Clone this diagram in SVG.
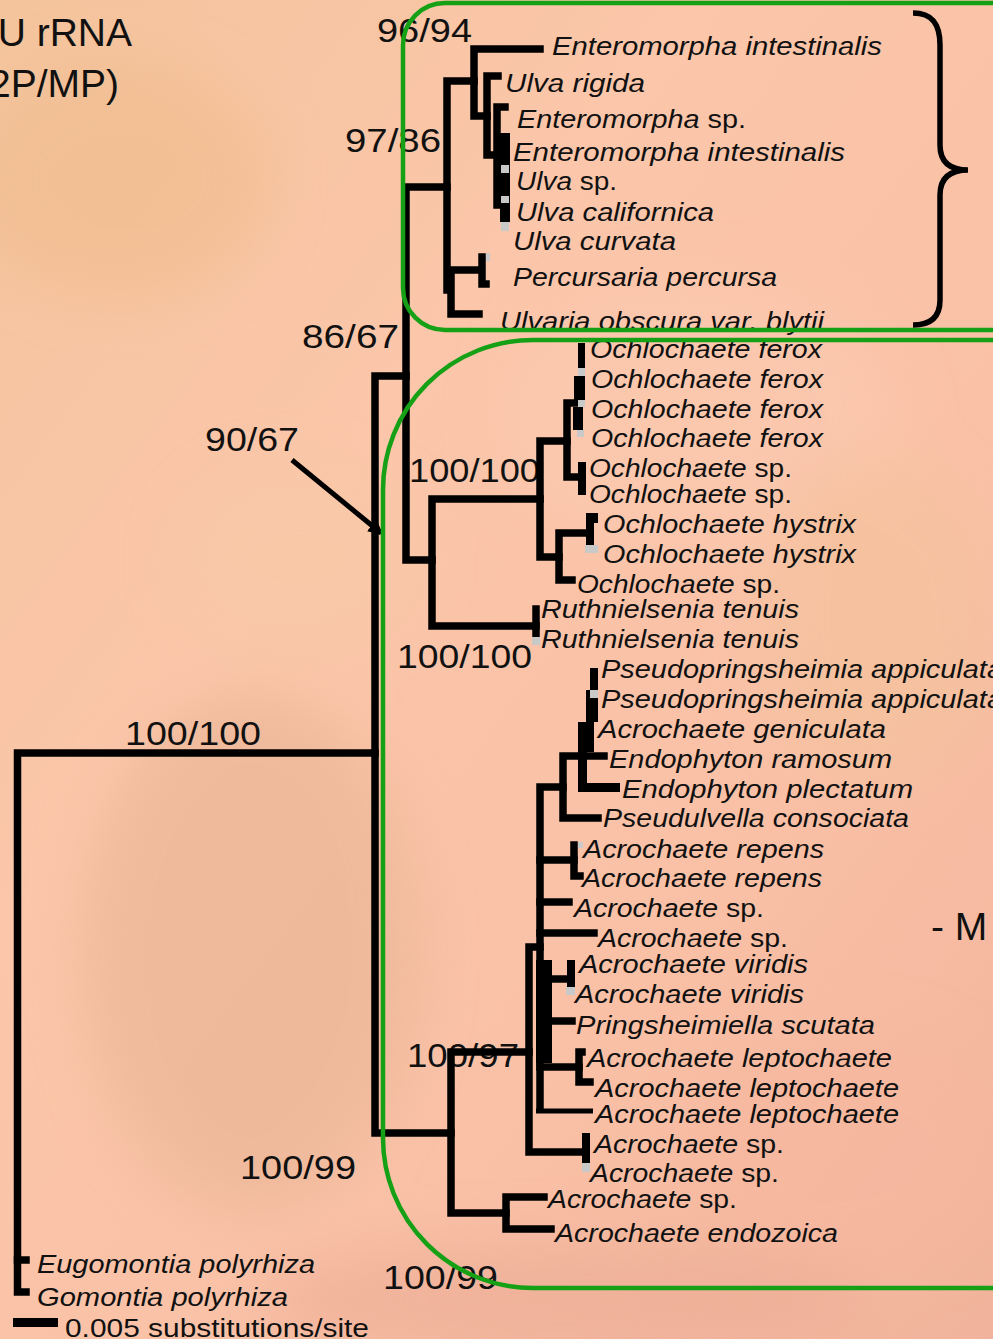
<svg xmlns="http://www.w3.org/2000/svg" width="993" height="1339" viewBox="0 0 993 1339">
<defs>
<linearGradient id="bg" x1="0" y1="0" x2="1" y2="1">
<stop offset="0" stop-color="#f4c49c"/>
<stop offset="0.35" stop-color="#fbc6aa"/>
<stop offset="0.7" stop-color="#f9c0a6"/>
<stop offset="1" stop-color="#f1b39b"/>
</linearGradient>
<filter id="blur" x="-50%" y="-50%" width="200%" height="200%"><feGaussianBlur stdDeviation="28"/></filter>
<marker id="arr" viewBox="0 0 10 10" refX="8" refY="5" markerWidth="3" markerHeight="3" orient="auto"><path d="M0,0 L10,5 L0,10 z" fill="#000"/></marker>
<style>
.sp{font-family:"Liberation Sans",Arial,sans-serif;font-style:italic;font-size:26px;fill:#111}
.n{font-style:normal}
.bs{font-family:"Liberation Sans",Arial,sans-serif;font-size:34px;fill:#111}
.hd{font-family:"Liberation Sans",Arial,sans-serif;font-size:39px;fill:#111}
.br{fill:none;stroke:#000;stroke-width:7.5;stroke-linecap:square;stroke-linejoin:miter}
.bk{fill:#000}
.gr{fill:#c9c9c9}
.box{fill:none;stroke:#15a015;stroke-width:4.5}
</style>
</defs>
<rect width="993" height="1339" fill="url(#bg)"/>
<g filter="url(#blur)" opacity="0.55">
<ellipse cx="120" cy="180" rx="150" ry="120" fill="#efbb8c"/>
<ellipse cx="250" cy="950" rx="170" ry="260" fill="#e6b292"/>
<ellipse cx="700" cy="420" rx="200" ry="140" fill="#fccbb2"/>
<ellipse cx="880" cy="620" rx="120" ry="160" fill="#f3c29a"/>
<ellipse cx="560" cy="1300" rx="300" ry="60" fill="#eaa993"/>
<ellipse cx="850" cy="1150" rx="160" ry="120" fill="#f7b79f"/>
<ellipse cx="300" cy="560" rx="120" ry="90" fill="#f7cba6"/>
</g>

<!-- bootstrap labels -->
<g id="support-labels">
<text class="bs" x="377" y="42" textLength="95" lengthAdjust="spacingAndGlyphs">96/94</text>
<text class="bs" x="345" y="152" textLength="96" lengthAdjust="spacingAndGlyphs">97/86</text>
<text class="bs" x="302" y="348" textLength="97" lengthAdjust="spacingAndGlyphs">86/67</text>
<text class="bs" x="205" y="451" textLength="94" lengthAdjust="spacingAndGlyphs">90/67</text>
<text class="bs" x="409" y="482" textLength="131" lengthAdjust="spacingAndGlyphs">100/100</text>
<text class="bs" x="397" y="668" textLength="135" lengthAdjust="spacingAndGlyphs">100/100</text>
<text class="bs" x="125" y="745" textLength="136" lengthAdjust="spacingAndGlyphs">100/100</text>
<text class="bs" x="240" y="1179" textLength="116" lengthAdjust="spacingAndGlyphs">100/99</text>
<text class="bs" x="407" y="1067" textLength="112" lengthAdjust="spacingAndGlyphs">100/97</text>
<text class="bs" x="383" y="1289" textLength="115" lengthAdjust="spacingAndGlyphs">100/99</text>
</g>

<g id="header">
<text class="hd" x="132" y="46" text-anchor="end">U rRNA</text>
<text class="hd" x="119" y="97" text-anchor="end">2P/MP)</text>
<text class="hd" x="931" y="940">- M</text>
</g>

<!-- taxa -->
<g id="t01"><text class="sp" x="552" y="55" textLength="330" lengthAdjust="spacingAndGlyphs">Enteromorpha intestinalis</text></g>
<g id="t02"><text class="sp" x="505" y="92" textLength="140" lengthAdjust="spacingAndGlyphs">Ulva rigida</text></g>
<g id="t03"><text class="sp" x="517" y="128" textLength="229" lengthAdjust="spacingAndGlyphs">Enteromorpha <tspan class="n">sp.</tspan></text></g>
<g id="t04"><text class="sp" x="513" y="161" textLength="332" lengthAdjust="spacingAndGlyphs">Enteromorpha intestinalis</text></g>
<g id="t05"><text class="sp" x="516" y="190" textLength="101" lengthAdjust="spacingAndGlyphs">Ulva <tspan class="n">sp.</tspan></text></g>
<g id="t06"><text class="sp" x="516" y="221" textLength="198" lengthAdjust="spacingAndGlyphs">Ulva californica</text></g>
<g id="t07"><text class="sp" x="513" y="250" textLength="163" lengthAdjust="spacingAndGlyphs">Ulva curvata</text></g>
<g id="t08"><text class="sp" x="513" y="286" textLength="264" lengthAdjust="spacingAndGlyphs">Percursaria percursa</text></g>
<g id="t09"><text class="sp" x="500" y="330" textLength="324" lengthAdjust="spacingAndGlyphs">Ulvaria obscura var. blytii</text></g>
<g id="t10"><text class="sp" x="590" y="358" textLength="232" lengthAdjust="spacingAndGlyphs">Ochlochaete ferox</text></g>
<g id="t11"><text class="sp" x="591" y="388" textLength="232" lengthAdjust="spacingAndGlyphs">Ochlochaete ferox</text></g>
<g id="t12"><text class="sp" x="591" y="418" textLength="232" lengthAdjust="spacingAndGlyphs">Ochlochaete ferox</text></g>
<g id="t13"><text class="sp" x="591" y="447" textLength="232" lengthAdjust="spacingAndGlyphs">Ochlochaete ferox</text></g>
<g id="t14"><text class="sp" x="589" y="477" textLength="203" lengthAdjust="spacingAndGlyphs">Ochlochaete <tspan class="n">sp.</tspan></text></g>
<g id="t15"><text class="sp" x="589" y="503" textLength="203" lengthAdjust="spacingAndGlyphs">Ochlochaete <tspan class="n">sp.</tspan></text></g>
<g id="t16"><text class="sp" x="603" y="533" textLength="253" lengthAdjust="spacingAndGlyphs">Ochlochaete hystrix</text></g>
<g id="t17"><text class="sp" x="603" y="563" textLength="253" lengthAdjust="spacingAndGlyphs">Ochlochaete hystrix</text></g>
<g id="t18"><text class="sp" x="577" y="593" textLength="203" lengthAdjust="spacingAndGlyphs">Ochlochaete <tspan class="n">sp.</tspan></text></g>
<g id="t19"><text class="sp" x="541" y="618" textLength="258" lengthAdjust="spacingAndGlyphs">Ruthnielsenia tenuis</text></g>
<g id="t20"><text class="sp" x="541" y="648" textLength="258" lengthAdjust="spacingAndGlyphs">Ruthnielsenia tenuis</text></g>
<g id="t21"><text class="sp" x="601" y="678" textLength="402" lengthAdjust="spacingAndGlyphs">Pseudopringsheimia appiculata</text></g>
<g id="t22"><text class="sp" x="601" y="708" textLength="402" lengthAdjust="spacingAndGlyphs">Pseudopringsheimia appiculata</text></g>
<g id="t23"><text class="sp" x="598" y="738" textLength="288" lengthAdjust="spacingAndGlyphs">Acrochaete geniculata</text></g>
<g id="t24"><text class="sp" x="609" y="768" textLength="283" lengthAdjust="spacingAndGlyphs">Endophyton ramosum</text></g>
<g id="t25"><text class="sp" x="622" y="798" textLength="291" lengthAdjust="spacingAndGlyphs">Endophyton plectatum</text></g>
<g id="t26"><text class="sp" x="603" y="827" textLength="306" lengthAdjust="spacingAndGlyphs">Pseudulvella consociata</text></g>
<g id="t27"><text class="sp" x="583" y="858" textLength="241" lengthAdjust="spacingAndGlyphs">Acrochaete repens</text></g>
<g id="t28"><text class="sp" x="582" y="887" textLength="240" lengthAdjust="spacingAndGlyphs">Acrochaete repens</text></g>
<g id="t29"><text class="sp" x="574" y="917" textLength="190" lengthAdjust="spacingAndGlyphs">Acrochaete <tspan class="n">sp.</tspan></text></g>
<g id="t30"><text class="sp" x="598" y="947" textLength="190" lengthAdjust="spacingAndGlyphs">Acrochaete <tspan class="n">sp.</tspan></text></g>
<g id="t31"><text class="sp" x="579" y="973" textLength="229" lengthAdjust="spacingAndGlyphs">Acrochaete viridis</text></g>
<g id="t32"><text class="sp" x="575" y="1003" textLength="229" lengthAdjust="spacingAndGlyphs">Acrochaete viridis</text></g>
<g id="t33"><text class="sp" x="576" y="1034" textLength="299" lengthAdjust="spacingAndGlyphs">Pringsheimiella scutata</text></g>
<g id="t34"><text class="sp" x="587" y="1067" textLength="305" lengthAdjust="spacingAndGlyphs">Acrochaete leptochaete</text></g>
<g id="t35"><text class="sp" x="595" y="1097" textLength="304" lengthAdjust="spacingAndGlyphs">Acrochaete leptochaete</text></g>
<g id="t36"><text class="sp" x="595" y="1123" textLength="304" lengthAdjust="spacingAndGlyphs">Acrochaete leptochaete</text></g>
<g id="t37"><text class="sp" x="594" y="1153" textLength="190" lengthAdjust="spacingAndGlyphs">Acrochaete <tspan class="n">sp.</tspan></text></g>
<g id="t38"><text class="sp" x="590" y="1182" textLength="189" lengthAdjust="spacingAndGlyphs">Acrochaete <tspan class="n">sp.</tspan></text></g>
<g id="t39"><text class="sp" x="548" y="1208" textLength="189" lengthAdjust="spacingAndGlyphs">Acrochaete <tspan class="n">sp.</tspan></text></g>
<g id="t40"><text class="sp" x="555" y="1242" textLength="283" lengthAdjust="spacingAndGlyphs">Acrochaete endozoica</text></g>
<g id="t41"><text class="sp" x="37" y="1273" textLength="278" lengthAdjust="spacingAndGlyphs">Eugomontia polyrhiza</text></g>
<g id="t42"><text class="sp" x="37" y="1306" textLength="251" lengthAdjust="spacingAndGlyphs">Gomontia polyrhiza</text></g>
<g id="scale"><rect class="bk" x="13" y="1318" width="45" height="9"/><text class="sp n" x="65" y="1337" textLength="304" lengthAdjust="spacingAndGlyphs">0.005 substitutions/site</text></g>

<!-- connectors -->
<g id="connectors">
<line x1="292" y1="460" x2="381" y2="533" stroke="#000" stroke-width="5" marker-end="url(#arr)"/>
<path class="br" d="M375,753 H17.5 V1292 H26"/>
<path class="br" d="M17.5,1260 H26"/>
<path class="br" d="M406,376 H375 V1133 H451"/>
<path class="br" d="M447,187 H406 V560 H432"/>
<path class="br" d="M474,81 H447 V290"/>
<path class="br" d="M479,270 H451 V314 H479"/>
<path class="br" d="M482,257 V284 H486"/>
<rect class="gr" x="486" y="253" width="4" height="8"/>
<path class="br" d="M540,49 H474 V116 H487"/>
<path class="br" d="M498,76 H487 V155 H497"/>
<path class="br" d="M505,107 H497 V205"/>
<rect class="bk" x="500" y="133" width="10" height="89"/>
<rect class="gr" x="501" y="165" width="8" height="8"/>
<rect class="gr" x="501" y="196" width="8" height="7"/>
<rect class="gr" x="501" y="222" width="8" height="9"/>
<path class="br" d="M540,499 H432 V626 H536"/>
<path class="br" d="M536,609 V634"/>
<rect class="gr" x="532" y="637" width="8" height="8"/>
<path class="br" d="M567,441 H540 V557 H559"/>
<path class="br" d="M578,403 H567 V477 H582"/>
<rect class="bk" x="578" y="343" width="7" height="25"/>
<rect class="gr" x="578" y="368" width="7" height="8"/>
<rect class="bk" x="574" y="376" width="11" height="24"/>
<rect class="gr" x="578" y="400" width="7" height="7"/>
<rect class="bk" x="573" y="407" width="10" height="23"/>
<rect class="gr" x="577" y="430" width="7" height="7"/>
<rect class="bk" x="578" y="462" width="8" height="33"/>
<path class="br" d="M586,533 H559 V580 H572"/>
<rect class="bk" x="586" y="513" width="12" height="10"/>
<rect class="bk" x="586" y="513" width="8" height="32"/>
<rect class="gr" x="585" y="545" width="13" height="8"/>
<path class="br" d="M529,1052 H451 V1213 H506"/>
<path class="br" d="M540,947 H529 V1152 H586"/>
<rect class="bk" x="582" y="1133" width="8" height="30"/>
<rect class="gr" x="582" y="1163" width="8" height="9"/>
<path class="br" d="M563,787 H540 V1108"/>
<path d="M536,1111 H593" stroke="#000" stroke-width="5" fill="none"/>
<path class="br" d="M540,860 H574"/>
<path class="br" d="M574,845 V876 H580"/>
<rect class="gr" x="578" y="842" width="5" height="6"/>
<path class="br" d="M540,902 H569"/>
<path class="br" d="M540,933 H594"/>
<rect class="bk" x="536" y="960" width="16" height="103"/>
<path class="br" d="M540,979 H571"/>
<rect class="bk" x="567" y="960" width="8" height="27"/>
<rect class="gr" x="566" y="987" width="9" height="8"/>
<path class="br" d="M540,1021 H572"/>
<path class="br" d="M540,1067 H579"/>
<path class="br" d="M582,1052 H579 V1082 H590"/>
<path class="br" d="M604,756 H563 V818 H598"/>
<rect class="bk" x="578" y="722" width="16" height="30"/>
<rect class="bk" x="578" y="752" width="9" height="40"/>
<rect class="bk" x="578" y="783" width="42" height="9"/>
<rect class="bk" x="586" y="698" width="12" height="24"/>
<rect class="bk" x="586" y="690" width="4" height="8"/>
<rect class="bk" x="590" y="668" width="8" height="22"/>
<rect class="gr" x="590" y="690" width="8" height="8"/>
<path class="br" d="M544,1197 H506 V1229 H551"/>
</g>

<g id="groups">
<rect class="box" x="403" y="3" width="700" height="327" rx="42" ry="42"/>
<rect class="box" x="383" y="340" width="800" height="948" rx="150" ry="150"/>
<path d="M913,13 C933,13 940,25 940,45 V145 C940,162 950,170 968,170 C950,170 940,178 940,195 V300 C940,316 932,325 913,325" fill="none" stroke="#000" stroke-width="5.5"/>
</g>
</svg>
